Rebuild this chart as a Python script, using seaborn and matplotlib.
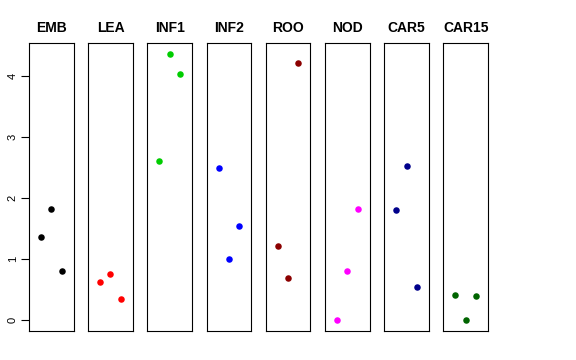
import pandas as pd
import matplotlib
matplotlib.use("Agg")
import matplotlib.pyplot as plt
import seaborn as sns

# Tissue groups and three replicate values each
tissues = ['EMB', 'LEA', 'INF1', 'INF2', 'ROO', 'NOD', 'CAR5', 'CAR15']
colors = ['#000000', '#FF0000', '#00CD00', '#0000FF',
          '#8B0000', '#FF00FF', '#00008B', '#006400']
replicate = [1, 2, 3]
emb = [1.37, 1.82, 0.81]
lea = [0.62, 0.76, 0.35]
inf1 = [2.60, 4.36, 4.03]
inf2 = [2.50, 1.01, 1.54]
roo = [1.21, 0.70, 4.21]
nod = [0.00, 0.81, 1.82]
car5 = [1.80, 2.52, 0.54]
car15 = [0.42, 0.00, 0.40]
values = [emb, lea, inf1, inf2, roo, nod, car5, car15]

yticks = [0, 1, 2, 3, 4]

sns.set_style("white")
plt.rcParams['font.family'] = ['Liberation Sans', 'DejaVu Sans']
plt.rcParams['text.color'] = 'black'
plt.rcParams['ytick.color'] = 'black'

fig, axes = plt.subplots(1, len(tissues), figsize=(5.76, 3.6), dpi=100, sharey=True)
fig.subplots_adjust(left=29 / 576, right=488 / 576, top=1 - 43 / 360,
                    bottom=1 - 331 / 360, wspace=0.33)

for ax, name, vals, col in zip(axes, tissues, values, colors):
    df = pd.DataFrame({'rep': replicate, 'value': vals})
    sns.scatterplot(data=df, x='rep', y='value', ax=ax, color=col,
                    s=22, linewidth=0, legend=False)
    ax.set_xlim(-0.16, 4.16)
    ax.set_ylim(-0.176, 4.54)
    ax.set_title(name, fontsize=10, fontweight='bold', pad=8, color='black')
    ax.set_xlabel('')
    ax.set_ylabel('')
    ax.set_xticks([])
    for sp in ax.spines.values():
        sp.set_visible(True)
        sp.set_color('black')
        sp.set_linewidth(0.8)
    ax.tick_params(axis='y', left=False, labelleft=False)

ax0 = axes[0]
ax0.set_yticks(yticks)
ax0.tick_params(axis='y', left=True, labelleft=True, length=6, width=0.8,
                labelsize=8, pad=2, color='black', labelcolor='black')
for lab in ax0.get_yticklabels():
    lab.set_rotation(90)
    lab.set_va('center')

fig.savefig('out.png', dpi=100)
